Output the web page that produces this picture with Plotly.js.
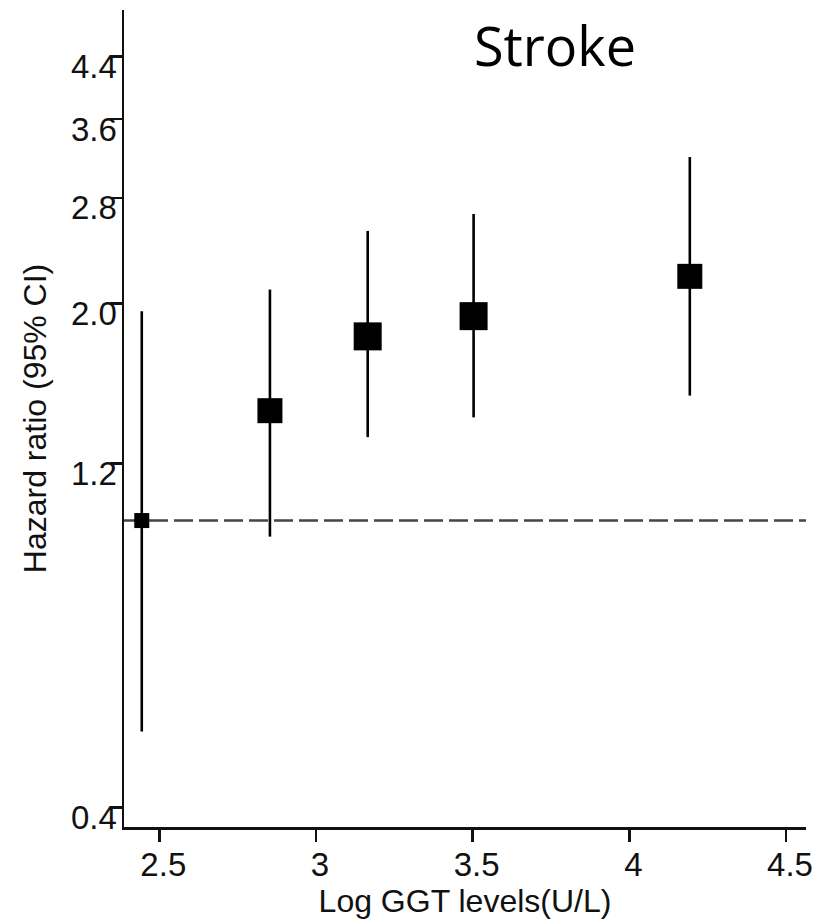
<!DOCTYPE html>
<html>
<head>
<meta charset="utf-8">
<script src="https://cdn.plot.ly/plotly-3.0.1.min.js"></script>
<style>
  html, body { margin: 0; padding: 0; background: #ffffff; }
  #chart { width: 829px; height: 922px; }
</style>
</head>
<body>
<div id="chart"></div>
<script>
// Log GGT level (x) for each group
const logGGT = [2.444, 2.853, 3.165, 3.503, 4.193];
// Hazard ratio point estimates
const hazardRatio = [1.00, 1.42, 1.80, 1.92, 2.18];
// 95% CI bounds
const ciLower = [0.51, 0.95, 1.305, 1.39, 1.49];
const ciUpper = [1.95, 2.09, 2.52, 2.66, 3.19];
// Reference (null) hazard ratio
const refHR = 1;
// Tick labels
const xTickVals = [2.5, 3, 3.5, 4, 4.5];
const xTickText = ['2.5', '3', '3.5', '4', '4.5'];
const yTickVals = [0.4, 1.2, 2.0, 2.8, 3.6, 4.4];
const yTickText = ['0.4', '1.2', '2.0', '2.8', '3.6', '4.4'];

const xRange = [2.3873, 4.5638];
const yRange = [-0.4247, 0.7076]; // log10 units

const ink = '#111111';
const tickFont = { family: 'Liberation Sans, Arial, sans-serif', size: 33, color: ink };
const titleFont = { family: 'Liberation Sans, Arial, sans-serif', size: 32, color: ink };

const refLine = {
  type: 'scatter',
  mode: 'lines',
  x: xRange,
  y: [refHR, refHR],
  line: { color: '#444444', width: 2.5, dash: '19px,6px' },
  hoverinfo: 'skip',
  showlegend: false,
  cliponaxis: false
};

const points = {
  type: 'scatter',
  mode: 'markers',
  x: logGGT,
  y: hazardRatio,
  marker: { symbol: 'square', color: '#000000', opacity: 1, size: [15, 25, 28, 28, 25], line: { width: 0 } },
  error_y: {
    type: 'data',
    symmetric: false,
    array: hazardRatio.map((v, i) => ciUpper[i] - v),
    arrayminus: hazardRatio.map((v, i) => v - ciLower[i]),
    width: 0,
    thickness: 2.6,
    color: '#000000'
  },
  showlegend: false
};

const layout = {
  width: 829,
  height: 922,
  margin: { l: 124, r: 23, t: 10, b: 95 },
  paper_bgcolor: '#ffffff',
  plot_bgcolor: '#ffffff',
  showlegend: false,
  title: {
    text: 'Stroke',
    font: { family: 'Open Sans, Lato, sans-serif', size: 54, color: '#000000' },
    x: 555 / 829,
    xanchor: 'center',
    y: 1 - 47.5 / 922,
    yanchor: 'middle'
  },
  xaxis: {
    range: xRange,
    tickmode: 'array',
    tickvals: xTickVals,
    ticktext: xTickText,
    ticks: 'outside',
    ticklen: 12,
    tickwidth: 2.5,
    tickcolor: ink,
    ticklabelstandoff: -5,
    ticklabelshift: 4,
    showline: true,
    linewidth: 2.5,
    linecolor: ink,
    showgrid: false,
    zeroline: false,
    tickfont: tickFont,
    automargin: false,
    title: { text: 'Log GGT levels(U/L)', font: titleFont, standoff: 7 }
  },
  yaxis: {
    type: 'log',
    range: yRange,
    tickmode: 'array',
    tickvals: yTickVals,
    ticktext: yTickText,
    ticks: 'outside',
    ticklen: 12,
    tickwidth: 2.5,
    tickcolor: ink,
    ticklabelstandoff: -14,
    ticklabelshift: 10,
    showline: true,
    linewidth: 2.5,
    linecolor: ink,
    showgrid: false,
    zeroline: false,
    tickfont: tickFont,
    automargin: false,
    title: { text: 'Hazard ratio (95% CI)', font: titleFont, standoff: 15 }
  }
};

Plotly.newPlot('chart', [refLine, points], layout, { displayModeBar: false, staticPlot: true });
</script>
</body>
</html>
